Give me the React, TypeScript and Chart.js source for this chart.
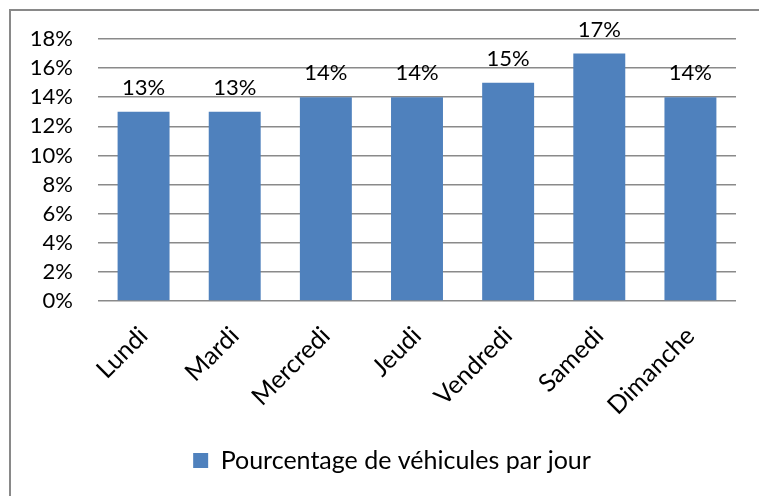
import { useEffect, useRef } from "react";
import { Chart, registerables } from "chart.js";

Chart.register(...registerables);

const categories = ["Lundi", "Mardi", "Mercredi", "Jeudi", "Vendredi", "Samedi", "Dimanche"];
const values = [13, 13, 14, 14, 15, 17, 14];
const yTicks = [0, 2, 4, 6, 8, 10, 12, 14, 16, 18];
const yTickLabels = ["0%", "2%", "4%", "6%", "8%", "10%", "12%", "14%", "16%", "18%"];
const seriesLabel = "Pourcentage de véhicules par jour";

const FONT = "Lato, 'Open Sans', sans-serif";
const BAR = "#4F81BD";

const dataLabels = {
  id: "dataLabels",
  afterDatasetsDraw(chart: any) {
    const ctx = chart.ctx;
    const meta = chart.getDatasetMeta(0);
    ctx.save();
    ctx.font = `22px ${FONT}`;
    ctx.fillStyle = "#000";
    ctx.textAlign = "center";
    ctx.textBaseline = "alphabetic";
    meta.data.forEach((el: any, i: number) => {
      ctx.fillText(values[i] + "%", el.x, el.y - 17);
    });
    ctx.restore();
  },
};

export default function App() {
  const ref = useRef<HTMLCanvasElement | null>(null);

  useEffect(() => {
    if (!ref.current) return;
    const chart = new Chart(ref.current, {
      type: "bar",
      data: {
        labels: categories,
        datasets: [
          {
            label: seriesLabel,
            data: values,
            backgroundColor: BAR,
            borderWidth: 0,
            barPercentage: 0.57,
            categoryPercentage: 1,
            yAxisID: "y",
          },
        ],
      },
      options: {
        animation: false,
        responsive: false,
        layout: { padding: { left: 0, right: 6, top: 39, bottom: 13 } },
        plugins: {
          tooltip: { enabled: false },
          legend: {
            position: "bottom",
            labels: {
              boxWidth: 15,
              boxHeight: 15,
              color: "#000",
              font: { family: FONT, size: 25 },
              padding: 10,
            },
          },
        },
        scales: {
          x: {
            grid: { display: false },
            border: { display: false },
            ticks: {
              minRotation: 45,
              maxRotation: 45,
              autoSkip: false,
              color: "#000",
              font: { family: FONT, size: 25 },
              padding: 12,
            },
            afterFit: (s: any) => {
              s.height = 137;
            },
          },
          y: {
            min: 0,
            max: 18,
            afterBuildTicks: (s: any) => {
              s.ticks = yTicks.map((v) => ({ value: v }));
            },
            ticks: {
              autoSkip: false,
              color: "#000",
              font: { family: FONT, size: 22 },
              padding: 25,
              callback: (v: any) => yTickLabels[yTicks.indexOf(Number(v))],
            },
            grid: { color: "#8a8a8a", drawTicks: false, lineWidth: 1.6 },
            border: { display: false },
            afterFit: (s: any) => {
              s.width = 98;
            },
          },
          spacer: {
            type: "linear",
            position: "right",
            display: true,
            grid: { display: false },
            border: { display: false },
            ticks: { display: false },
            afterFit: (s: any) => {
              s.width = 48;
            },
          },
        },
      },
      plugins: [dataLabels],
    });
    return () => chart.destroy();
  }, []);

  return (
    <div style={{ position: "fixed", left: 0, top: 0, width: 759, height: 496, overflow: "hidden", background: "#fff" }}>
      <div
        style={{
          position: "absolute",
          left: 9,
          top: 9,
          width: 900,
          height: 700,
          borderLeft: "2px solid #898989",
          borderTop: "2px solid #898989",
        }}
      />
      <canvas ref={ref} width={790} height={496} style={{ position: "absolute", left: 0, top: 0 }} />
    </div>
  );
}
